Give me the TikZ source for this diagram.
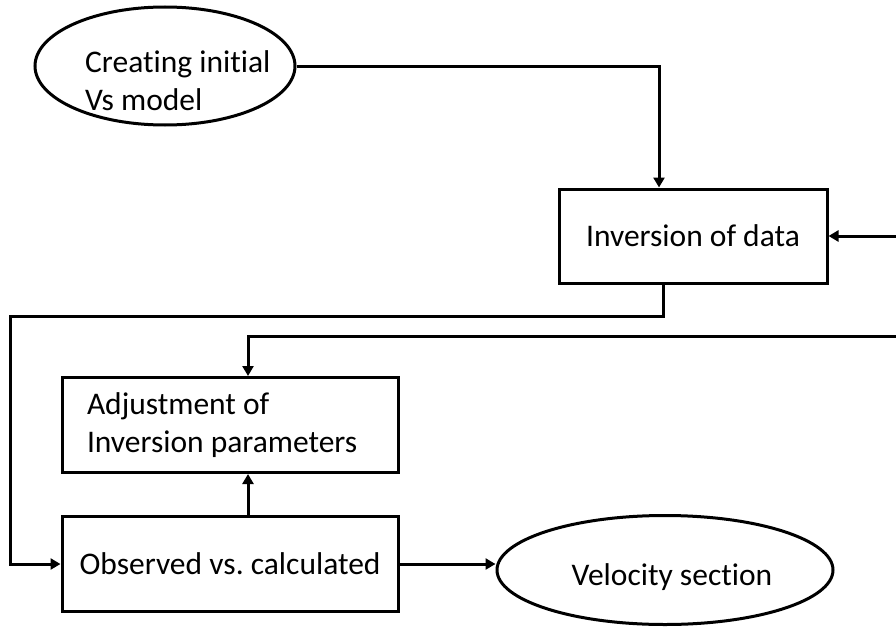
\documentclass[tikz,border=0pt]{standalone}
\usepackage{fontspec}
\setmainfont[Ligatures=NoCommon]{Carlito}
\usetikzlibrary{positioning, arrows.meta, shapes.geometric, calc}

\tikzset{
  flowbox/.style={draw, line width=3pt, rectangle, minimum width=336pt, minimum height=95pt, inner sep=0pt},
  flowoval/.style={draw, line width=3pt, ellipse, inner sep=0pt},
  flowline/.style={line width=3pt, -{Triangle[length=10pt,width=11pt]}},
  flowtext/.style={font=\fontsize{31.5}{38}\selectfont}
}

\begin{document}
\begin{tikzpicture}[x=1pt,y=-1pt]
\useasboundingbox (0,0) rectangle (896,626);
% start and end ovals
\node[flowoval, minimum width=260pt, minimum height=118pt] (init) at (165,66) {};
\node[flowtext, align=left, anchor=west, inner sep=0pt] (initlbl) at (85,81) {Creating initial\\Vs model};
\node[flowoval, minimum width=336pt, minimum height=109pt] (vel) at (665,570) {};
\node[flowtext] (vellbl) at (672,577) {Velocity section};
% boxes
\node[flowbox, flowtext, minimum width=268pt, minimum height=94pt] (inv) at (693,236) {Inversion of data};
\node[flowbox, flowtext, align=flush left, text width=286pt, inner xsep=25pt] (adj) at (230,425) {Adjustment of\\Inversion parameters};
\node[flowbox, flowtext] (obs) at (230,564) {Observed vs.\ calculated};
% loose ends
\coordinate (rin) at (896,236);
\coordinate (rtop) at (896,336);
\coordinate (loopl) at (10,316);
% connectors
\draw[flowline] (init.east) -| ([xshift=-34pt]inv.north);
\draw[flowline] (rin) -- (inv.east);
\draw[flowline] ([xshift=-30pt]inv.south) |- (loopl) |- (obs.west);
\draw[flowline] (rtop) -| ([xshift=18pt]adj.north);
\draw[flowline] ([xshift=18pt]obs.north) -- ([xshift=18pt]adj.south);
\draw[flowline] (obs.east) -- (obs.east -| vel.west);
\end{tikzpicture}
\end{document}
